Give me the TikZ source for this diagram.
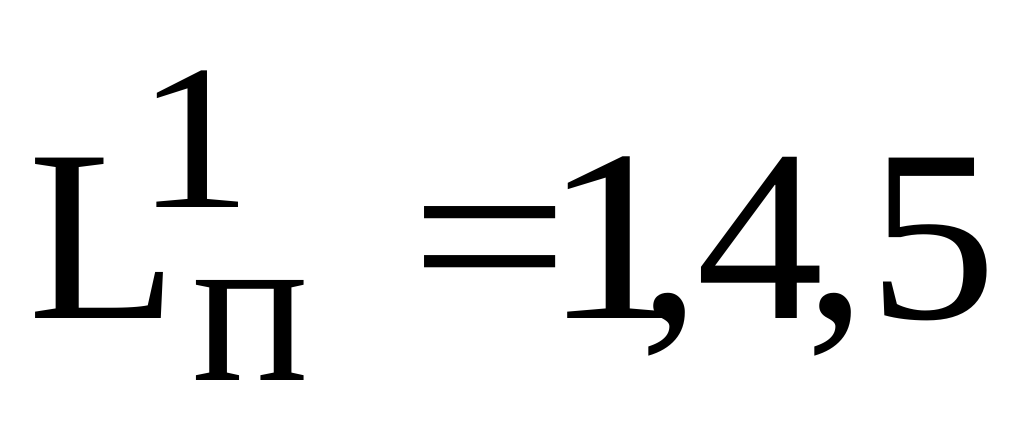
\documentclass[tikz,border=0pt]{standalone}
\usepackage{fontspec}
\setmainfont{Liberation Serif}
\begin{document}
\begin{tikzpicture}[x=1pt,y=1pt,
  glyph/.style={inner sep=0pt,outer sep=0pt,anchor=base},
  big/.style={glyph,font=\fontsize{245}{250}\selectfont},
  supf/.style={glyph,font=\fontsize{207}{210}\selectfont},
  subf/.style={glyph,font=\fontsize{218}{220}\selectfont}]
\useasboundingbox (0,0) rectangle (1024,424);
\node[big] (L) at (103,{424-318}) {L};
\node[supf] (sup) at (194,{424-207}) {\scalebox{1.12}[1]{1}};
\node[subf] (sub) at (251,{424-380}) {п};
\node[big] (eq) at (490,{424-318}) {\scalebox{1.15}[1]{=}};
\node[big] (d1) at (614,{424-318}) {\scalebox{1.17}[1]{1}};
\node[big] (c1) at (670,{424-318}) {,};
\node[big] (d4) at (760,{424-318}) {\scalebox{1.04}[1]{4}};
\node[big] (c2) at (836,{424-318}) {,};
\node[big] (d5) at (933,{424-318}) {\scalebox{1.05}[1]{5}};
\end{tikzpicture}
\end{document}
